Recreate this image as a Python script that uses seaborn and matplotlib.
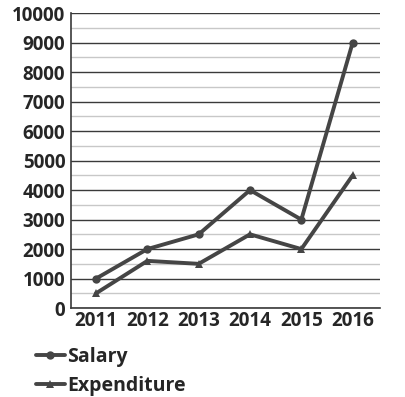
import pandas as pd
import matplotlib.pyplot as plt
import seaborn as sns
from matplotlib.ticker import MultipleLocator

# Dados do gráfico
years = ['2011', '2012', '2013', '2014', '2015', '2016']
salary = [1000, 2000, 2500, 4000, 3000, 9000]
expenditure = [500, 1600, 1500, 2500, 2000, 4500]

base = pd.DataFrame({
    'Year': years * 2,
    'Value': salary + expenditure,
    'Series': ['Salary'] * len(years) + ['Expenditure'] * len(years),
})

sns.set_style('white')
plt.rcParams['font.family'] = 'Open Sans'
plt.rcParams['font.weight'] = 'bold'

fig = plt.figure(figsize=(4.05, 3.97), dpi=100)
ax = fig.add_axes([0.175, 0.224, 0.763, 0.743])

cor = '#454545'
sns.lineplot(data=base, x='Year', y='Value', hue='Series', style='Series',
             markers={'Salary': 'o', 'Expenditure': '^'}, dashes=False,
             palette={'Salary': cor, 'Expenditure': cor},
             linewidth=2.8, markersize=6, markeredgewidth=0, ax=ax, sort=False)

ax.set_ylim(0, 10000)
ax.set_xlim(-0.49, 5.53)
ax.yaxis.set_major_locator(MultipleLocator(1000))
ax.yaxis.set_minor_locator(MultipleLocator(500))
ax.grid(which='major', axis='y', color='#3a3a3a', linewidth=1.0)
ax.grid(which='minor', axis='y', color='#c8c8c8', linewidth=1.0)
ax.grid(axis='x', visible=False)
ax.set_axisbelow(True)

for s in ['top', 'right']:
    ax.spines[s].set_visible(False)
for s in ['left', 'bottom']:
    ax.spines[s].set_color('#3a3a3a')
    ax.spines[s].set_linewidth(1.2)

ax.tick_params(axis='both', which='both', length=0, labelsize=13.5)
ax.tick_params(axis='y', pad=4)
ax.tick_params(axis='x', pad=2)
ax.set_xlabel('')
ax.set_ylabel('')

handles, labels = ax.get_legend_handles_labels()
ax.get_legend().remove()
fig.legend(handles, labels, loc='upper left', bbox_to_anchor=(0.045, 0.17),
           frameon=False, handlelength=1.5, handletextpad=0.1, labelspacing=0.45,
           prop={'family': 'Open Sans', 'weight': 'bold', 'size': 14})

fig.savefig('out.png', dpi=100)
